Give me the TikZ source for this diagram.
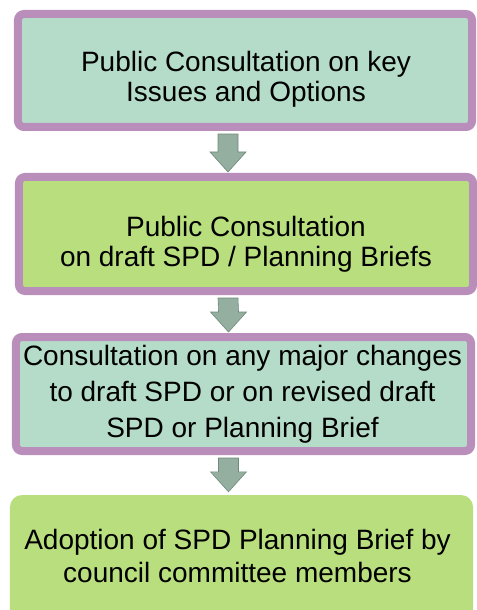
\documentclass[tikz,border=0pt]{standalone}
\usepackage{fontspec}
\setmainfont{Liberation Sans}
\usetikzlibrary{calc}
\definecolor{bordpurple}{RGB}{186,142,186}
\definecolor{fillteal}{RGB}{180,220,201}
\definecolor{fillgreen}{RGB}{185,222,126}
\definecolor{arrowfill}{RGB}{148,174,159}
\definecolor{arrowline}{RGB}{110,138,124}
\tikzset{
  framebox/.style={draw=bordpurple, line width=8bp, rounded corners=6bp, inner sep=0pt},
  tealbox/.style={framebox, fill=fillteal},
  greenbox/.style={framebox, fill=fillgreen},
  plainbox/.style={fill=fillgreen, rounded corners=12bp, inner sep=0pt},
  boxtext/.style={align=center, inner sep=0pt, font=\fontsize{28bp}{#1}\selectfont},
  blockarrow/.style={fill=arrowfill, draw=arrowline, line width=0.6bp, line join=miter}
}
\newcommand{\blockarrow}[2]{%
  \path[blockarrow] ($(#1)+(-10,0)$) -- ($(#1)+(10,0)$) -- ($(#2)+(10,-20)$) -- ($(#2)+(18,-20)$)
    -- (#2) -- ($(#2)+(-18,-20)$) -- ($(#2)+(-10,-20)$) -- cycle;}
\begin{document}
\begin{tikzpicture}[x=1bp, y=-1bp]
\useasboundingbox (0,0) rectangle (477,610);
\begin{scope}
\clip (0,0) rectangle (477,610);
% boxes
\node[tealbox, minimum width=454bp, minimum height=113bp] (b1) at (245,70.5) {};
\node[greenbox, minimum width=454bp, minimum height=114bp] (b2) at (246,234) {};
\node[tealbox, minimum width=455bp, minimum height=114bp] (b3) at (243.5,394) {};
\node[plainbox, minimum width=463bp, minimum height=130bp] (b4) at (241.5,560) {};
% texts
\node[boxtext=30bp] (t1) at (246,79) {Public Consultation on key\\Issues and Options};
\node[boxtext=30bp] (t2) at (246,244) {Public Consultation\\on draft SPD / Planning Briefs};
\node[boxtext=36bp] (t3) at (242.5,394) {Consultation on any major changes\\to draft SPD or on revised draft\\SPD or Planning Brief};
\node[boxtext=33bp] (t4) at (237.5,555.5) {Adoption of SPD Planning Brief by\\council committee members};
% arrow anchors
\coordinate (a1s) at ($(b1.south)+(-17,3)$);
\coordinate (a1e) at ($(b2.north)+(-18,-1)$);
\coordinate (a2s) at ($(b2.south)+(-18,3)$);
\coordinate (a2e) at ($(b3.north)+(-15,-1)$);
\coordinate (a3s) at ($(b3.south)+(-15,3)$);
\coordinate (a3e) at ($(b4.north)+(-13,-3)$);
\blockarrow{a1s}{a1e}
\blockarrow{a2s}{a2e}
\blockarrow{a3s}{a3e}
\end{scope}
\end{tikzpicture}
\end{document}
